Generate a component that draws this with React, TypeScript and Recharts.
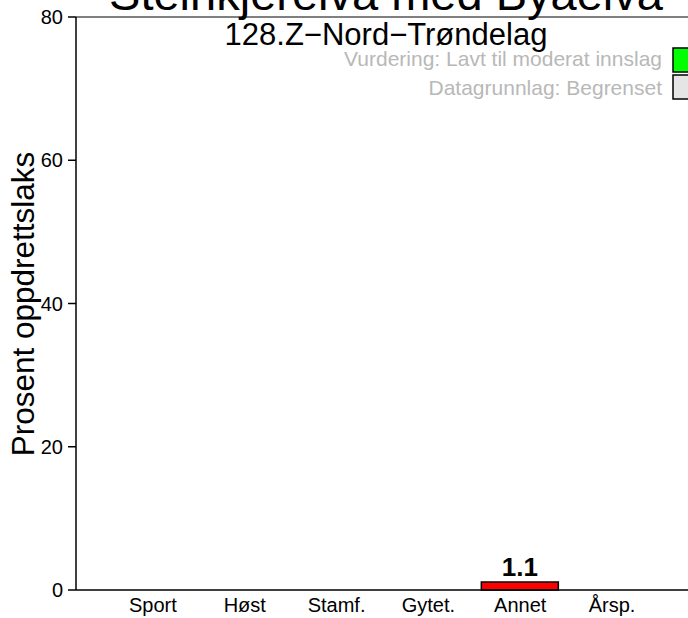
import { BarChart, Bar, XAxis, YAxis, ReferenceLine, LabelList } from "recharts";

const categories = ["Sport", "Høst", "Stamf.", "Gytet.", "Annet", "Årsp."];
const shares: (number | null)[] = [null, null, null, null, 1.1, null];
const yTicks = [0, 20, 40, 60, 80];

const title = "Steinkjerelva med Byaelva";
const subtitle = "128.Z−Nord−Trøndelag";
const legendLines = ["Vurdering: Lavt til moderat innslag", "Datagrunnlag: Begrenset"];
const legendFills = ["#00ff00", "#e5e5e5"];

const FONT = "'Liberation Sans', Arial, Helvetica, sans-serif";

export default function App() {
  const data = categories.map((name, i) => ({ name, value: shares[i] }));

  return (
    <div
      style={{
        position: "absolute",
        left: 0,
        top: 0,
        width: 688,
        height: 618,
        overflow: "hidden",
        background: "#fff",
        fontFamily: FONT,
      }}
    >
      <BarChart
        width={688}
        height={618}
        data={data}
        margin={{ top: 17, right: 0, bottom: 0, left: 0 }}
      >
        <YAxis
          width={76}
          domain={[0, 80]}
          ticks={yTicks}
          interval={0}
          axisLine={{ stroke: "#000", strokeWidth: 1.5 }}
          tickLine={{ stroke: "#000", strokeWidth: 1.5 }}
          tickSize={8}
          tickMargin={5}
          tick={{ fill: "#000", fontSize: 20, fontFamily: FONT }}
        />
        <XAxis
          dataKey="name"
          height={28}
          interval={0}
          padding={{ left: 31, right: 30 }}
          axisLine={{ stroke: "#000", strokeWidth: 1.5 }}
          tickLine={false}
          tickSize={0}
          tickMargin={8}
          tick={{ fill: "#000", fontSize: 20, fontFamily: FONT }}
        />
        <ReferenceLine y={80} stroke="#000" strokeWidth={1} />
        <Bar
          dataKey="value"
          fill="#ff0000"
          stroke="#000"
          strokeWidth={1.5}
          barSize={77}
          isAnimationActive={false}
        >
          <LabelList
            dataKey="value"
            position="top"
            offset={6}
            formatter={(v: any) => (v == null ? "" : String(v))}
            style={{ fill: "#000", fontSize: 26, fontWeight: "bold", fontFamily: FONT }}
          />
        </Bar>
      </BarChart>

      <svg
        width={688}
        height={618}
        style={{ position: "absolute", left: 0, top: 0, pointerEvents: "none" }}
        fontFamily={FONT}
      >
        <text x={386} y={10} textAnchor="middle" fontSize={47} fill="#000">
          {title}
        </text>
        <text x={386} y={45} textAnchor="middle" fontSize={31} fill="#000">
          {subtitle}
        </text>
        {legendLines.map((line, i) => (
          <g key={line}>
            <text x={662} y={66 + i * 29} textAnchor="end" fontSize={21} fill="#b8b8b8">
              {line}
            </text>
            <rect
              x={673}
              y={48 + i * 27}
              width={24}
              height={24}
              fill={legendFills[i]}
              stroke="#000"
              strokeWidth={1.5}
            />
          </g>
        ))}
        <text
          x={34}
          y={304}
          textAnchor="middle"
          fontSize={31.5}
          fill="#000"
          transform="rotate(-90 34 304)"
        >
          Prosent oppdrettslaks
        </text>
      </svg>
    </div>
  );
}
